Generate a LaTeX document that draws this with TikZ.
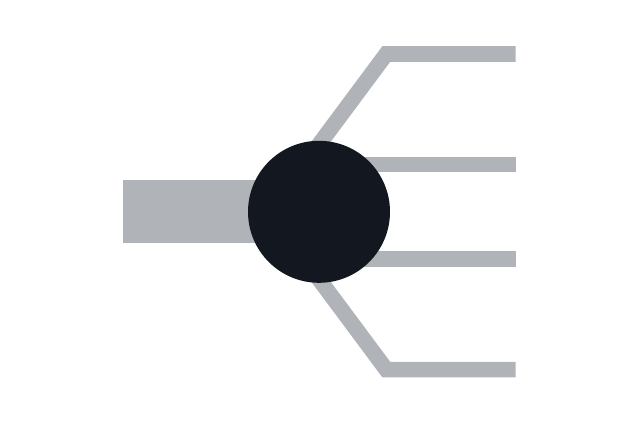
\documentclass[tikz,border=0pt]{standalone}
\usepackage{tikz}

\definecolor{wiregray}{RGB}{176,180,184}
\definecolor{hubblack}{RGB}{19,23,31}

\begin{document}
\begin{tikzpicture}[x=1pt,y=-1pt,
        trunk/.style={draw=wiregray,line width=63.3pt},
        wire/.style={draw=wiregray,line width=15.6pt},
        hub/.style={circle,fill=hubblack,minimum size=142pt,inner sep=0pt}]
        \useasboundingbox (0,0) rectangle (640,424);

        \coordinate (c) at (319,211.8);
        \coordinate (in) at (123.3,211.8);

        \coordinate (t0) at (300,170);
        \coordinate (t1) at (386.3,54);
        \coordinate (t2) at (515.7,54);
        \coordinate (m1) at (515.7,164.5);
        \coordinate (m2) at (515.7,259);
        \coordinate (b0) at (300,253.6);
        \coordinate (b1) at (386.3,369.6);
        \coordinate (b2) at (515.7,369.6);

        \draw[trunk] (in) -- (c);
        \draw[wire] (t0) -- (t1) -- (t2);
        \draw[wire] (c |- m1) -- (m1);
        \draw[wire] (c |- m2) -- (m2);
        \draw[wire] (b0) -- (b1) -- (b2);

        \node[hub] (hub) at (c) {};
    \end{tikzpicture}
\end{document}
